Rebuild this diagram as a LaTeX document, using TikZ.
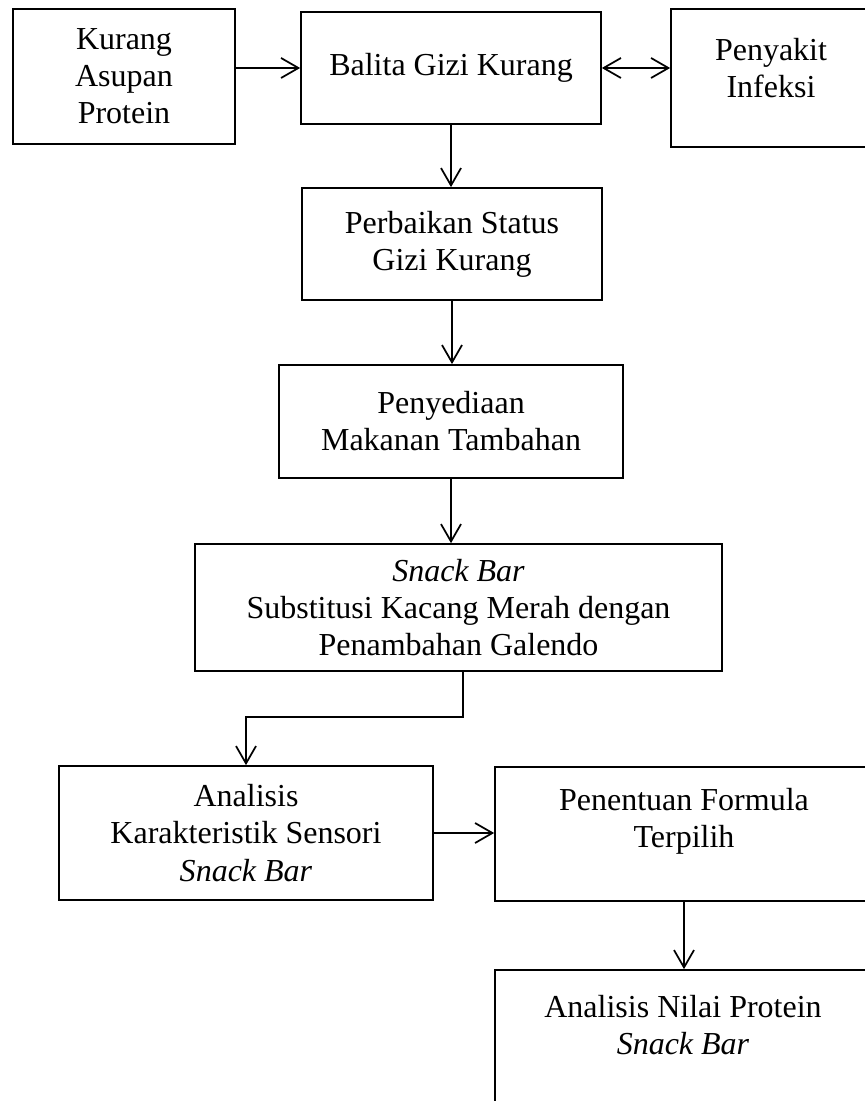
\documentclass[tikz,border=0pt]{standalone}
\usepackage{fontspec}
\setmainfont{Liberation Serif}
\usetikzlibrary{arrows.meta}
\begin{document}
\begin{tikzpicture}[x=0.375pt,y=-0.375pt,
        >={Straight Barb[length=6.5pt,width=7.5pt]},
        kotak/.style={draw,line width=0.65pt,align=center,inner sep=0pt,
            font=\fontsize{12}{13.9}\selectfont},
        panah/.style={->,line width=0.65pt}]
    \useasboundingbox (0,0) rectangle (865,1101);
    \clip (0,0) rectangle (865,1101);
    \node[kotak,minimum width=83.25pt,minimum height=50.6pt] (kurang) at (124,76.5) {Kurang\\Asupan\\Protein};
    \node[kotak,minimum width=112.5pt,minimum height=42pt] (balita) at (451,68) {Balita Gizi Kurang};
    \node[kotak,minimum width=75pt,minimum height=51.75pt,text depth=7.5pt] (infeksi) at (771,78) {Penyakit\\Infeksi};
    \node[kotak,minimum width=112.5pt,minimum height=42pt] (perbaikan) at (452,244) {Perbaikan Status\\Gizi Kurang};
    \node[kotak,minimum width=129pt,minimum height=42.4pt] (penyediaan) at (451,421.5) {Penyediaan\\Makanan Tambahan};
    \node[kotak,minimum width=197.6pt,minimum height=47.6pt] (snack) at (458.5,607.5) {\textit{Snack Bar}\\Substitusi Kacang Merah dengan\\Penambahan Galendo};
    \node[kotak,minimum width=140.25pt,minimum height=50.25pt] (sensori) at (246,833) {Analisis\\Karakteristik Sensori\\\textit{Snack Bar}};
    \node[kotak,minimum width=141.75pt,minimum height=50.25pt,text depth=12.3pt] (formula) at (684,834) {Penentuan Formula\\Terpilih};
    \node[kotak,minimum width=141pt,minimum height=52.5pt,text depth=11.25pt] (protein) at (683,1040) {Analisis Nilai Protein\\\textit{Snack Bar}};
    \draw[panah] (kurang.east |- balita.west) -- (balita.west);
    \draw[panah,<->] (balita.east) -- (infeksi.west |- balita.east);
    \draw[panah] (balita.south) -- (perbaikan.north -| balita.south);
    \draw[panah] (perbaikan.south) -- (penyediaan.north -| perbaikan.south);
    \draw[panah] (penyediaan.south) -- (snack.north -| penyediaan.south);
    \draw[panah] ([xshift=1.7pt]snack.south) -- ++(0,45) -| (sensori.north);
    \draw[panah] (sensori.east) -- (formula.west |- sensori.east);
    \draw[panah] (formula.south) -- (protein.north -| formula.south);
\end{tikzpicture}
\end{document}
